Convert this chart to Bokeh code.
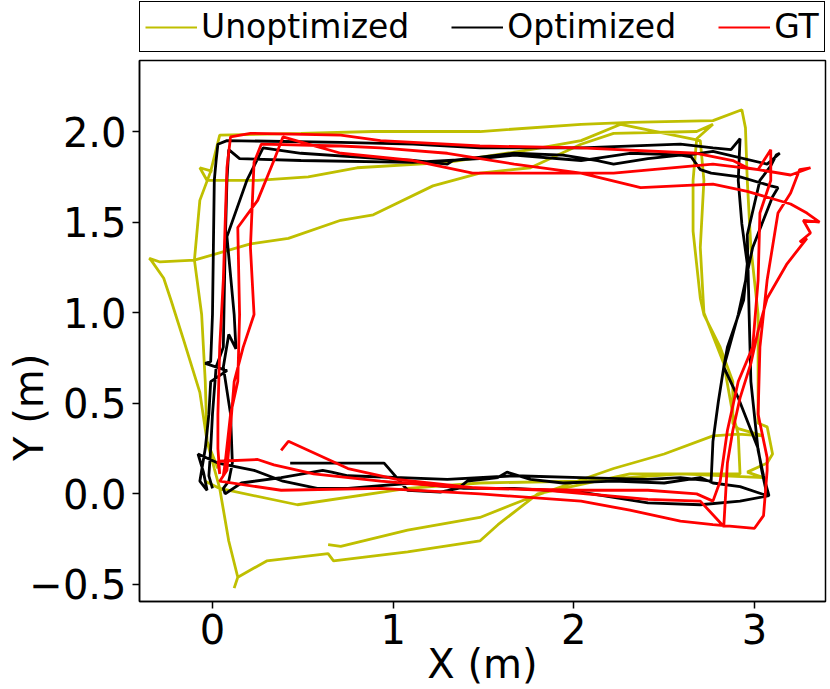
import numpy as np
from bokeh.plotting import figure
from bokeh.models import Range1d, FixedTicker, Legend, LegendItem
from bokeh.layouts import column
from bokeh.embed import file_html
from bokeh.resources import INLINE

nan = float("nan")

x_ticks = [0, 1, 2, 3]
y_ticks = [-0.5, 0.0, 0.5, 1.0, 1.5, 2.0]
y_tick_labels = ["\u22120.5", "0.0", "0.5", "1.0", "1.5", "2.0"]
series_names = ["Unoptimized", "Optimized", "GT"]
series_colors = ["#bfbf00", "black", "#ff0000"]

# Unoptimized trajectory (three laps, gaps marked with nan)
unopt_x = [0.03, -0.03, -0.04, -0.06, -0.10, -0.07, -0.01, 0.04, 0.49, 0.89, 1.48, 2.04, 2.31, 2.77, 2.93,
           2.95, 2.96, 2.98, 3.02, 3.02, 3.02, 3.07, 3.10, 3.07, 2.96, 3.05, 2.59, 2.31, 1.80, 1.58, 1.48,
           1.08, 0.67, 0.64, 0.30, 0.14, 0.12,
           0.14, 0.09, 0.04, 0.01, -0.03, -0.07, -0.16, -0.23, -0.27, -0.34, -0.35, -0.29, -0.10, 0.21, 0.42,
           0.71, 0.89, 0.93, 1.22, 1.48, 1.76, 2.04, 2.22, 2.68, 2.77, 2.68, 2.66, 2.66, 2.70, 2.72, 2.81,
           2.88, 2.88, 2.91, 3.05, 2.91, 2.77, 2.50, 2.22, 1.76, 1.48, 1.08, 0.71, 0.64,
           nan,
           -0.04, 0.04, 0.47, 1.08, 1.48, 2.04, 2.59, 2.92, 2.91, 2.88, 2.83, 2.72, 2.70, 2.72, 2.70, 2.26,
           2.04, 1.76, 1.30, 0.80, 0.53, 0.25, -0.03, -0.07, 0.0]
unopt_y = [0.14, 0.29, 0.62, 0.99, 1.29, 1.62, 1.78, 1.98, 1.99, 2.00, 2.00, 2.04, 2.05, 2.06, 2.12,
           2.02, 1.73, 1.36, 0.99, 0.62, 0.39, 0.37, 0.22, 0.17, 0.12, 0.09, 0.11, 0.11, 0.00, -0.17, -0.26,
           -0.32, -0.37, -0.33, -0.37, -0.46, -0.52,
           -0.46, -0.26, 0.03, 0.14, 0.29, 0.56, 0.85, 1.07, 1.19, 1.29, 1.30, 1.28, 1.29, 1.38, 1.41,
           1.51, 1.54, 1.56, 1.70, 1.77, 1.80, 1.93, 1.99, 2.00, 2.04, 1.96, 1.73, 1.45, 1.08, 0.99, 0.81,
           0.62, 0.39, 0.36, 0.32, 0.33, 0.32, 0.22, 0.14, -0.02, -0.13, -0.20, -0.29, -0.28,
           nan,
           0.07, 0.03, -0.06, 0.03, 0.06, 0.07, 0.11, 0.11, 0.33, 0.44, 0.72, 1.00, 1.36, 1.73, 1.95, 2.04,
           1.95, 1.90, 1.83, 1.80, 1.75, 1.73, 1.73, 1.80, 1.78]

# Optimized trajectory
opt_x = [0.43, 0.95, 1.08, 1.26, 1.36, 1.41, 1.58, 1.63, 1.76, 1.94, 2.22, 2.50, 2.70, 2.77, 2.92, 3.07,
         3.04, 3.02, 2.91, 2.83, 2.91, 2.99, 3.10, 3.13,
         3.09, 2.92, 2.76, 2.70, 2.65, 2.59, 2.41, 2.22, 2.13, 1.94, 1.67, 1.58, 1.33, 1.30, 1.11, 0.93, 0.49, 0.28,
         0.19, 0.08, 0.12, 0.13, 0.09, 0.06, 0.10, 0.11, 0.09, 0.06, 0.07,
         0.16, 0.38, 0.61, 0.66, 0.75, 1.30, 1.67, 2.04, 2.41, 2.59, 2.76,
         2.77, 2.80, 2.83, 2.85, 2.94, 2.96, 2.93, 2.91, 2.92,
         2.87, 2.77, 2.59, 2.04, 1.48, 1.11, 0.71, 0.08, 0.03,
         0.02, 0.01, 0.00, -0.01, -0.04, 0.08, -0.01, -0.02, -0.04, -0.07, -0.03, -0.05, -0.08,
         0.03, 0.23, 0.39, 0.58, 0.75, 1.11, 1.39, 1.67, 2.04, 2.41, 2.70, 2.92, 3.08,
         3.05, 3.02, 2.98, 2.97, 2.96, 3.03, 3.09, 3.12, 3.14,
         3.07, 2.77, 2.63, 2.31, 2.04, 1.67, 1.48, 1.11, 0.49, 0.15, 0.09,
         0.08, 0.07, 0.06, 0.02, 0.00, -0.01, -0.02, 0.00]
opt_y = [0.17, 0.17, 0.02, 0.01, 0.03, 0.07, 0.09, 0.12, 0.08, 0.06, 0.07, 0.06, 0.09, 0.06, 0.04, -0.01,
         0.13, 0.25, 0.53, 0.70, 0.99, 1.36, 1.64, 1.69,
         1.70, 1.75, 1.77, 1.79, 1.86, 1.87, 1.85, 1.82, 1.84, 1.87, 1.88, 1.87, 1.84, 1.82, 1.84, 1.85, 1.88, 1.91,
         1.73, 1.42, 0.99, 0.80, 0.88, 0.70, 0.44, 0.17, 0.07, 0.03, 0.00,
         0.06, 0.09, 0.13, 0.12, 0.10, 0.08, 0.10, 0.09, 0.08, 0.09, 0.07,
         0.29, 0.51, 0.70, 0.81, 1.07, 1.27, 1.49, 1.73, 1.96,
         1.90, 1.91, 1.93, 1.91, 1.91, 1.93, 1.94, 1.95, 1.93,
         1.84, 1.73, 0.99, 0.73, 0.72, 0.68, 0.62, 0.44, 0.25, 0.07, 0.02, 0.12, 0.22,
         0.17, 0.13, 0.07, 0.03, 0.03, 0.06, 0.03, 0.03, 0.01, -0.05, -0.06, -0.04, -0.01,
         0.10, 0.24, 0.62, 1.00, 1.43, 1.73, 1.81, 1.87, 1.88,
         1.82, 1.89, 1.87, 1.88, 1.84, 1.87, 1.85, 1.83, 1.84, 1.85, 1.90,
         1.73, 1.36, 0.81, 0.70, 0.44, 0.25, 0.10, 0.03]

# Ground truth trajectory
gt_x = [0.38, 0.42, 0.75, 1.02, 1.48, 2.04, 2.41, 2.68, 2.77, 2.81, 2.85, 2.91, 2.99, 3.02, 3.03, 3.09, 3.09,
        3.02, 2.96, 2.88, 2.68, 2.04, 1.48, 0.93, 0.71, 0.21, 0.10, 0.08, 0.06, 0.04, 0.03, 0.03, 0.04,
        0.03, 0.25, 0.34, 0.56, 0.93, 1.30, 1.85, 2.41, 2.70, 2.83, 2.85, 2.88, 2.92, 2.98, 3.02, 3.07, 3.18,
        3.29, 3.25, 3.31, 3.27, 3.36, 3.29, 3.20, 2.96, 2.77, 2.37, 2.04, 1.67, 1.30, 0.93, 0.71, 0.27,
        0.23, 0.21, 0.23, 0.17, 0.12, 0.09, 0.08,
        0.04, 0.38, 0.93, 1.48, 2.04, 2.31, 2.59, 2.77, 3.00, 3.05, 3.07, 3.07, 3.02, 3.03, 3.07, 3.13, 3.20,
        3.25, 3.31, 3.20, 3.02, 2.77, 2.22, 1.44, 1.11, 0.71, 0.53, 0.39, 0.34, 0.25, 0.14, 0.15, 0.14, 0.10,
        0.07, 0.06]
gt_y = [0.24, 0.29, 0.14, 0.08, 0.03, 0.02, 0.02, 0.00, -0.04, 0.07, 0.35, 0.62, 0.81, 1.18, 1.55, 1.73, 1.90,
        1.79, 1.80, 1.84, 1.88, 1.91, 1.92, 1.95, 1.98, 1.99, 1.97, 1.80, 1.18, 0.81, 0.44, 0.25, 0.11,
        0.18, 0.19, 0.16, 0.11, 0.07, 0.04, 0.02, -0.03, -0.04, -0.18, 0.17, 0.35, 0.53, 0.72, 0.90, 1.08, 1.27,
        1.41, 1.39, 1.44, 1.51, 1.50, 1.55, 1.60, 1.67, 1.71, 1.69, 1.77, 1.82, 1.88, 1.91, 1.92, 1.93,
        1.83, 1.36, 0.99, 0.81, 0.62, 0.25, 0.13,
        0.07, 0.02, 0.03, 0.00, -0.04, -0.09, -0.15, -0.17, -0.19, -0.12, 0.13, 0.20, 0.44, 0.81, 1.18, 1.55, 1.66,
        1.79, 1.80, 1.76, 1.79, 1.82, 1.77, 1.77, 1.84, 1.88, 1.93, 1.97, 1.84, 1.62, 1.47, 0.99, 0.62, 0.44,
        0.17, 0.10]

FONT = "DejaVu Sans"
FRAME_W, FRAME_H = 686, 541
LW = 2.8

# ---- main plot ----
p = figure(width=830, height=633, frame_width=FRAME_W, frame_height=FRAME_H,
           output_backend="svg", toolbar_location=None,
           x_range=Range1d(-0.404, 3.393), y_range=Range1d(-0.594, 2.392),
           min_border_left=139, min_border_top=4, min_border_bottom=88, min_border_right=5,
           background_fill_color="white", border_fill_color="white")

p.line(np.array(unopt_x), np.array(unopt_y), line_color=series_colors[0], line_width=LW)
p.line(opt_x, opt_y, line_color=series_colors[1], line_width=LW)
p.line(gt_x, gt_y, line_color=series_colors[2], line_width=LW)

p.grid.visible = False
p.outline_line_color = "black"
p.outline_line_width = 1.5
p.outline_line_alpha = 1.0

for ax in (p.xaxis[0], p.yaxis[0]):
    ax.axis_line_color = "black"
    ax.axis_line_width = 1.5
    ax.major_tick_out = 7
    ax.major_tick_in = 0
    ax.minor_tick_out = 0
    ax.minor_tick_in = 0
    ax.major_tick_line_width = 1.5
    ax.major_label_text_font = FONT
    ax.major_label_text_font_size = "40px"
    ax.major_label_text_color = "black"
    ax.axis_label_text_font = FONT
    ax.axis_label_text_font_size = "40px"
    ax.axis_label_text_font_style = "normal"
    ax.axis_label_text_color = "black"

p.xaxis.ticker = FixedTicker(ticks=x_ticks)
p.yaxis.ticker = FixedTicker(ticks=y_ticks)
p.xaxis.major_label_overrides = {t: str(t) for t in x_ticks}
p.yaxis.major_label_overrides = dict(zip(y_ticks, y_tick_labels))
p.xaxis.axis_label = "X (m)"
# trailing figure spaces move the visible title down along the axis, as in the reference
p.yaxis.axis_label = "Y (m)" + "\u2007" * 6
p.xaxis.major_label_standoff = 5
p.yaxis.major_label_standoff = 6
p.xaxis.axis_label_standoff = -6
p.yaxis.axis_label_standoff = -26

# ---- legend strip above the plot (its frame is aligned with the plot frame) ----
lf = figure(width=830, height=56, output_backend="svg", toolbar_location=None,
            x_range=Range1d(0, 1), y_range=Range1d(0, 1),
            x_axis_location=None, y_axis_location=None,
            min_border_left=0, min_border_right=0, min_border_top=0, min_border_bottom=0,
            background_fill_color="white", border_fill_color="white")
lf.grid.visible = False
lf.outline_line_color = None
handles = [lf.line([nan, nan], [nan, nan], line_color=c, line_width=2) for c in series_colors]

legend = Legend(items=[LegendItem(label=n, renderers=[h]) for n, h in zip(series_names, handles)],
                orientation="horizontal", location=(0, 4), margin=0, padding=5,
                spacing=42, glyph_width=52, glyph_height=30, label_standoff=4,
                label_text_font=FONT, label_text_font_size="33px", label_height=30,
                label_text_color="black",
                border_line_color="black", border_line_width=1.2, border_line_alpha=1.0,
                background_fill_color="white", background_fill_alpha=1.0)
lf.add_layout(legend)

layout = column(lf, p, spacing=0)
open("out.html", "w").write(file_html(layout, INLINE))
